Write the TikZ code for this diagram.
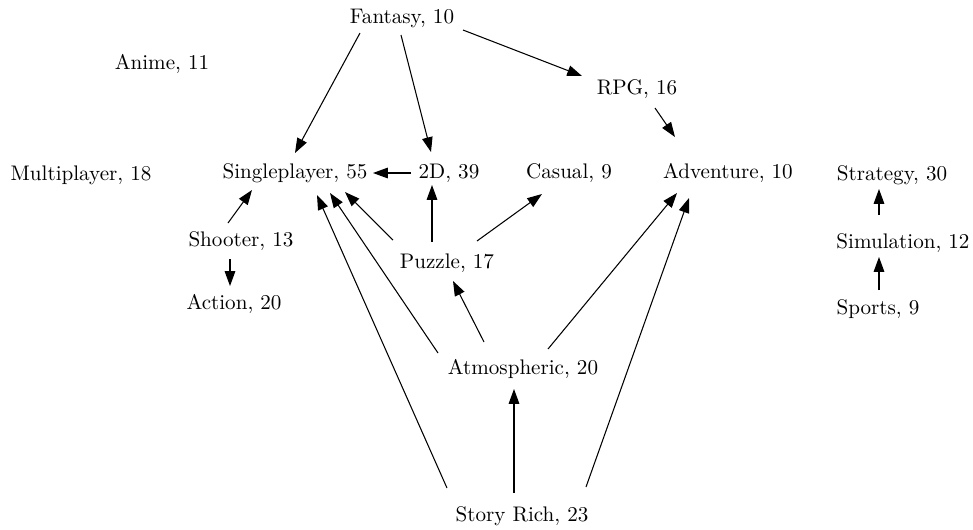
\documentclass[tikz,border=0pt]{standalone}
\usetikzlibrary{arrows.meta}
\begin{document}
\begin{tikzpicture}[x=0.01666cm,y=-0.01666cm,
                    tag/.style={inner sep=0pt},
                    edge/.style={line width=0.5pt,-{Triangle[length=7pt,width=5pt]}}]
                    \useasboundingbox (0,0) rectangle (973,529);
                    \node[tag] (fan) at (402,18)  {Fantasy, 10};
                    \node[tag] (ani) at (162,64)  {Anime, 11};
                    \node[tag] (rpg) at (637,89)  {RPG, 16};
                    \node[tag] (mul) at (81,175)  {Multiplayer, 18};
                    \node[tag] (sp)  at (295,173) {Singleplayer, 55};
                    \node[tag] (twod) at (449,173) {2D, 39};
                    \node[tag] (cas) at (569,173) {Casual, 9};
                    \node[tag] (adv) at (728,173) {Adventure, 10};
                    \node[tag] (str) at (892,175) {Strategy, 30};
                    \node[tag] (sho) at (241,241) {Shooter, 13};
                    \node[tag] (puz) at (447,263) {Puzzle, 17};
                    \node[tag] (sim) at (903,243) {Simulation, 12};
                    \node[tag] (act) at (234,304) {Action, 20};
                    \node[tag] (spo) at (878,309) {Sports, 9};
                    \node[tag] (atm) at (523,369) {Atmospheric, 20};
                    \node[tag] (sr)  at (522,516) {Story Rich, 23};
                    % edges
                    \draw[edge] ([shift={(-42,15)}]fan.center) -- ([shift={(0,-20)}]sp.center);
                    \draw[edge] ([shift={(-1,17)}]fan.center) -- ([shift={(-18,-21)}]twod.center);
                    \draw[edge] ([shift={(61,12)}]fan.center) -- ([shift={(-55,-13)}]rpg.center);
                    \draw[edge] ([shift={(18,19)}]rpg.center) -- ([shift={(-53,-36)}]adv.center);
                    \draw[edge] ([shift={(-38,0)}]twod.center) -- ([shift={(78,0)}]sp.center);
                    \draw[edge] ([shift={(-13,-18)}]sho.center) -- ([shift={(-43,17)}]sp.center);
                    \draw[edge] ([shift={(-11,18)}]sho.center) -- ([shift={(-4,-18)}]act.center);
                    \draw[edge] ([shift={(-54,-23)}]puz.center) -- ([shift={(50,19)}]sp.center);
                    \draw[edge] ([shift={(-15,-21)}]puz.center) -- ([shift={(-17,12)}]twod.center);
                    \draw[edge] ([shift={(30,-22)}]puz.center) -- ([shift={(-27,21)}]cas.center);
                    \draw[edge] ([shift={(-85,-16)}]atm.center) -- ([shift={(35,20)}]sp.center);
                    \draw[edge] ([shift={(-39,-27)}]atm.center) -- ([shift={(6,18)}]puz.center);
                    \draw[edge] ([shift={(25,-20)}]atm.center) -- ([shift={(-51,20)}]adv.center);
                    \draw[edge] ([shift={(-75,-28)}]sr.center) -- ([shift={(22,22)}]sp.center);
                    \draw[edge] ([shift={(-8,-23)}]sr.center) -- ([shift={(-9,20)}]atm.center);
                    \draw[edge] ([shift={(64,-29)}]sr.center) -- ([shift={(-39,25)}]adv.center);
                    \draw[edge] ([shift={(-24,-28)}]sim.center) -- ([shift={(-13,14)}]str.center);
                    \draw[edge] ([shift={(1,-19)}]spo.center) -- ([shift={(-24,14)}]sim.center);
\end{tikzpicture}
\end{document}
